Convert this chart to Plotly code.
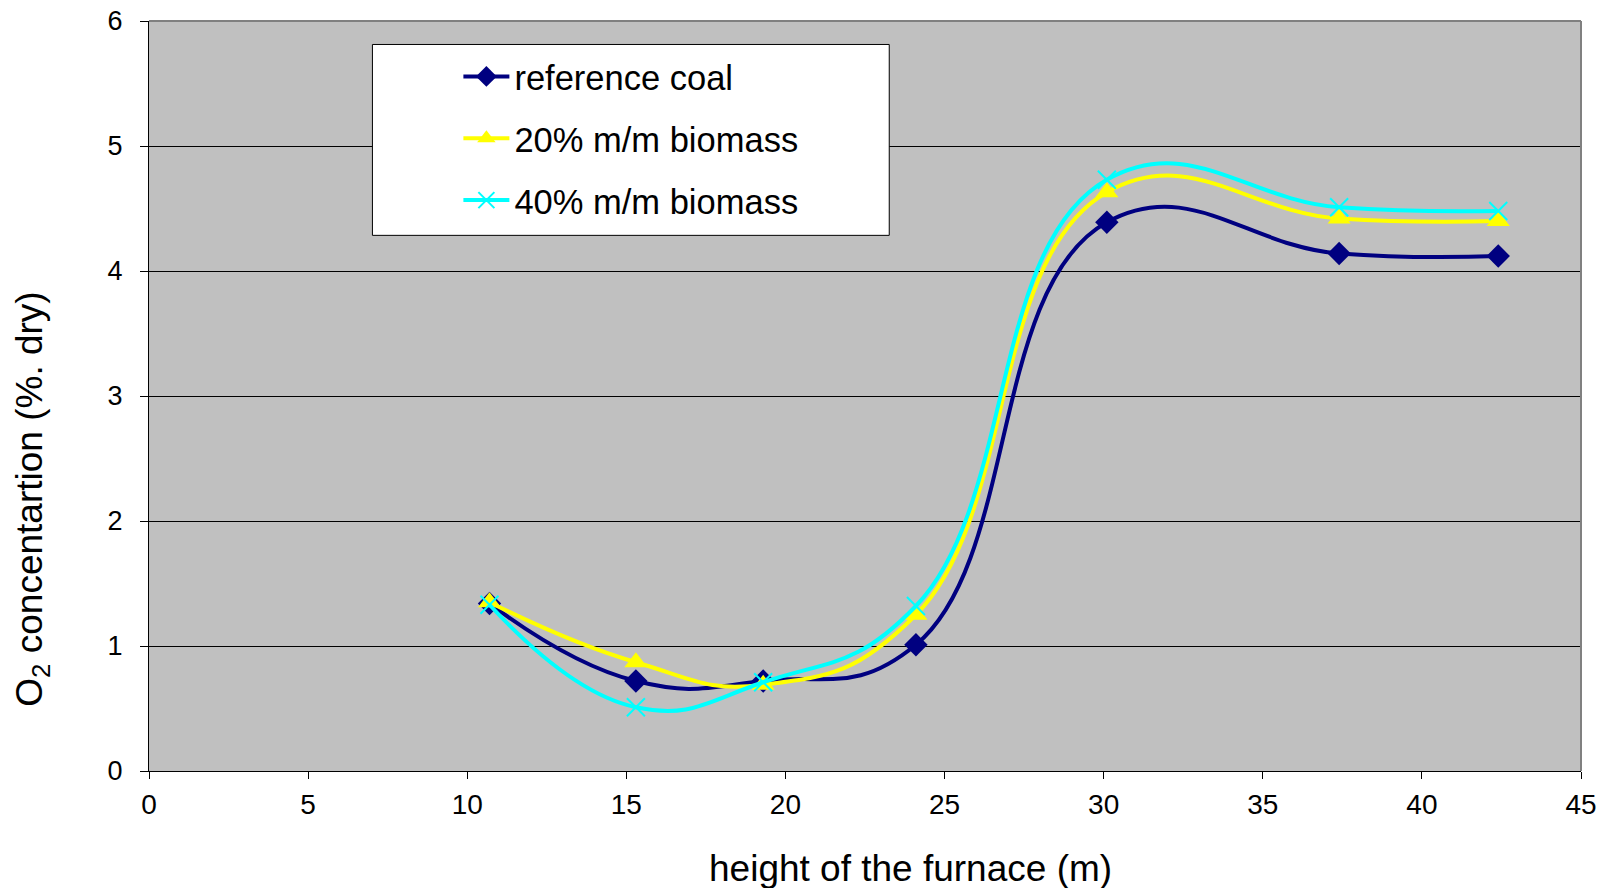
import plotly.graph_objects as go

# ---- data ----
height_m = [10.7, 15.3, 19.3, 24.1, 30.1, 37.4, 42.4]
ref_coal = [1.34, 0.72, 0.72, 1.01, 4.39, 4.14, 4.12]
bio20 = [1.35, 0.87, 0.69, 1.25, 4.63, 4.42, 4.40]
bio40 = [1.33, 0.51, 0.71, 1.32, 4.73, 4.51, 4.48]
series_names = ["reference coal", "20% m/m biomass", "40% m/m biomass"]
x_ticks = [0, 5, 10, 15, 20, 25, 30, 35, 40, 45]
y_ticks = [0, 1, 2, 3, 4, 5, 6]

W, H = 1607, 888
L, R, T, B = 148.5, 1581, 20.5, 771  # plot area in px

def px_x(p):
    return (p - L) / (R - L)

def px_y(p):
    return (B - p) / (B - T)

FONT = "Liberation Sans, Arial, sans-serif"

fig = go.Figure()
styles = [
    dict(color="#000080", symbol="diamond", size=18, mline=dict(width=0)),
    dict(color="#FFFF00", symbol="triangle-up", size=20, mline=dict(width=0)),
    dict(color="#00FFFF", symbol="x-thin", size=18, mline=dict(width=2, color="#00FFFF")),
]
for name, ys, st in zip(series_names, [ref_coal, bio20, bio40], styles):
    fig.add_trace(go.Scatter(
        x=height_m, y=ys, name=name, legendgroup=name,
        mode="lines+markers",
        line=dict(color=st["color"], width=4, shape="spline", smoothing=1.3),
        marker=dict(symbol=st["symbol"], size=st["size"], color=st["color"],
                    line=st["mline"]),
    ))

fig.update_layout(
    width=W, height=H,
    margin=dict(l=L, r=W - R, t=T, b=H - B, pad=0, autoexpand=False),
    paper_bgcolor="white",
    plot_bgcolor="#C0C0C0",
    font=dict(family=FONT, color="black"),
    showlegend=True,
    legend=dict(
        x=px_x(458), y=px_y(47), xanchor="left", yanchor="top",
        bgcolor="rgba(0,0,0,0)", borderwidth=0,
        font=dict(size=34.5, family=FONT),
        tracegroupgap=14, traceorder="grouped", itemwidth=46,
    ),
    xaxis=dict(
        range=[0, 45], tickvals=x_ticks, showgrid=False, zeroline=False,
        showline=True, linecolor="black", linewidth=1, automargin=False,
        ticks="outside", ticklen=7, tickcolor="black",
        tickfont=dict(size=28, family=FONT), ticklabelstandoff=1,
    ),
    yaxis=dict(
        range=[0, 6], tickvals=y_ticks, showgrid=True, gridcolor="black", gridwidth=1,
        zeroline=False, showline=True, linecolor="black", linewidth=1, automargin=False,
        ticks="outside", ticklen=8, tickcolor="black",
        tickfont=dict(size=27, family=FONT), ticklabelstandoff=12,
    ),
    shapes=[
        dict(type="rect", xref="paper", yref="paper", x0=px_x(372), x1=px_x(889),
             y0=px_y(235), y1=px_y(44), fillcolor="white",
             line=dict(color="black", width=1), layer="above"),
        dict(type="line", xref="paper", yref="paper", x0=0, x1=1, y0=1, y1=1,
             line=dict(color="#808080", width=2)),
        dict(type="line", xref="paper", yref="paper", x0=1, x1=1, y0=0, y1=1,
             line=dict(color="#808080", width=2)),
    ],
    annotations=[
        dict(text="O<sub>2</sub> concentartion (%. dry)", xref="paper", yref="paper",
             x=px_x(32), y=px_y(499), textangle=-90, showarrow=False,
             xanchor="center", yanchor="middle", font=dict(size=37, family=FONT)),
        dict(text="height of the furnace (m)", xref="paper", yref="paper",
             x=px_x(910), y=px_y(869), showarrow=False,
             xanchor="center", yanchor="middle", font=dict(size=37, family=FONT)),
    ],
)

fig.write_html("out.html")
